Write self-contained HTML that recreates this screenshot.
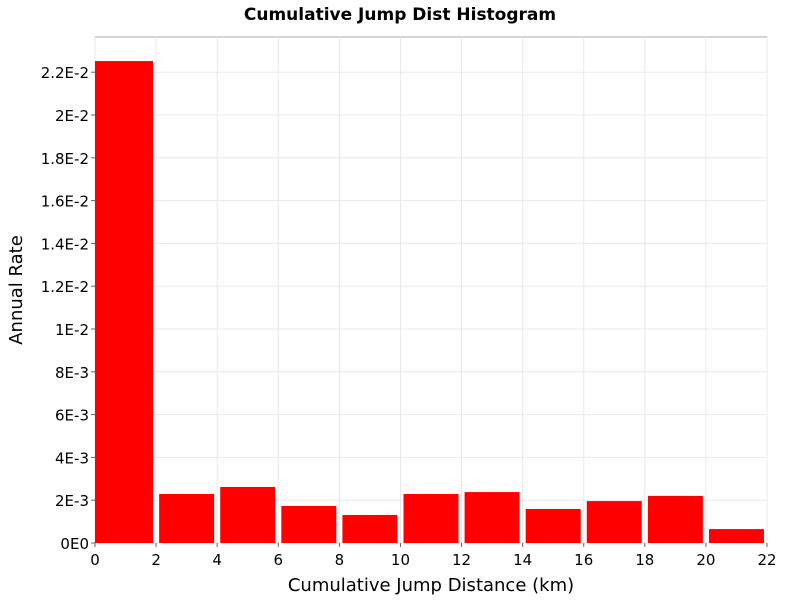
<!DOCTYPE html>
<html><head><meta charset="utf-8"><style>
body{margin:0;background:#fff;}
svg text{font-family:"DejaVu Sans","Liberation Sans",sans-serif;}
</style></head><body>
<svg id="chart" width="800" height="600" xmlns="http://www.w3.org/2000/svg">
<rect width="800" height="600" fill="#fff"/>
<text x="400" y="20" text-anchor="middle" font-size="17" font-weight="bold">Cumulative Jump Dist Histogram</text>
<rect x="95" y="37" width="672" height="506" fill="#fff" stroke="#aaa" stroke-width="1"/>
<g id="grid"></g><g id="bars"></g><g id="xticks"></g><g id="yticks"></g>
<text x="431" y="591" text-anchor="middle" font-size="18">Cumulative Jump Distance (km)</text>
<text transform="translate(22,290) rotate(-90)" text-anchor="middle" font-size="18">Annual Rate</text>
</svg>
<script>
const binStarts=[0,2,4,6,8,10,12,14,16,18,20];
const rates=[0.02252,0.00229,0.00262,0.00173,0.00131,0.00229,0.00238,0.00159,0.00196,0.00220,0.00065];
const xTicks=[0,2,4,6,8,10,12,14,16,18,20,22];
const yTicks=[0,0.002,0.004,0.006,0.008,0.010,0.012,0.014,0.016,0.018,0.020,0.022];
const yLabels=["0E0","2E-3","4E-3","6E-3","8E-3","1E-2","1.2E-2","1.4E-2","1.6E-2","1.8E-2","2E-2","2.2E-2"];
const X0=95,X1=767,Y0=543,Y1=37;
const xMax=22,yMax=(Y0-Y1)/21400;
const sx=v=>X0+v/xMax*(X1-X0);
const sy=v=>Y0-v/yMax*(Y0-Y1);
const NS="http://www.w3.org/2000/svg";
function mk(t,a,p){const e=document.createElementNS(NS,t);for(const k in a)e.setAttribute(k,a[k]);p.appendChild(e);return e;}
const grid=document.getElementById('grid'),bars=document.getElementById('bars'),xt=document.getElementById('xticks'),yt=document.getElementById('yticks');
xTicks.forEach(v=>{
 const l=mk('line',{x1:sx(v),x2:sx(v),y1:Y1,y2:Y0,stroke:'#e8e8e8'},grid);
 
 
 const tk=mk('line',{x1:sx(v),x2:sx(v),y1:Y0,y2:Y0+4,stroke:'#666'},xt);
 
 
 const t=mk('text',{x:sx(v),y:Y0+22,'text-anchor':'middle','font-size':'15'},xt);
 
 
 t.textContent=v;
});
yTicks.forEach((v,i)=>{
 const l=mk('line',{x1:X0,x2:X1,y1:sy(v),y2:sy(v),stroke:'#e8e8e8'},grid);
 
 
 const tk=mk('line',{x1:X0-4,x2:X0,y1:sy(v),y2:sy(v),stroke:'#666'},yt);
 
 
 const t=mk('text',{x:X0-6,y:sy(v)+6,'text-anchor':'end','font-size':'15'},yt);
 
 
 t.textContent=yLabels[i];
});
binStarts.forEach((b,i)=>{
 const a=Math.max(0,b+0.1),c=b+1.9;
 const x=(b===0)?sx(0):sx(a);
 const r=mk('rect',{x:x,y:sy(rates[i]),width:sx(c)-x,height:Y0-sy(rates[i]),fill:'#ff0000'},bars);
 
 
});
</script>
</body></html>
